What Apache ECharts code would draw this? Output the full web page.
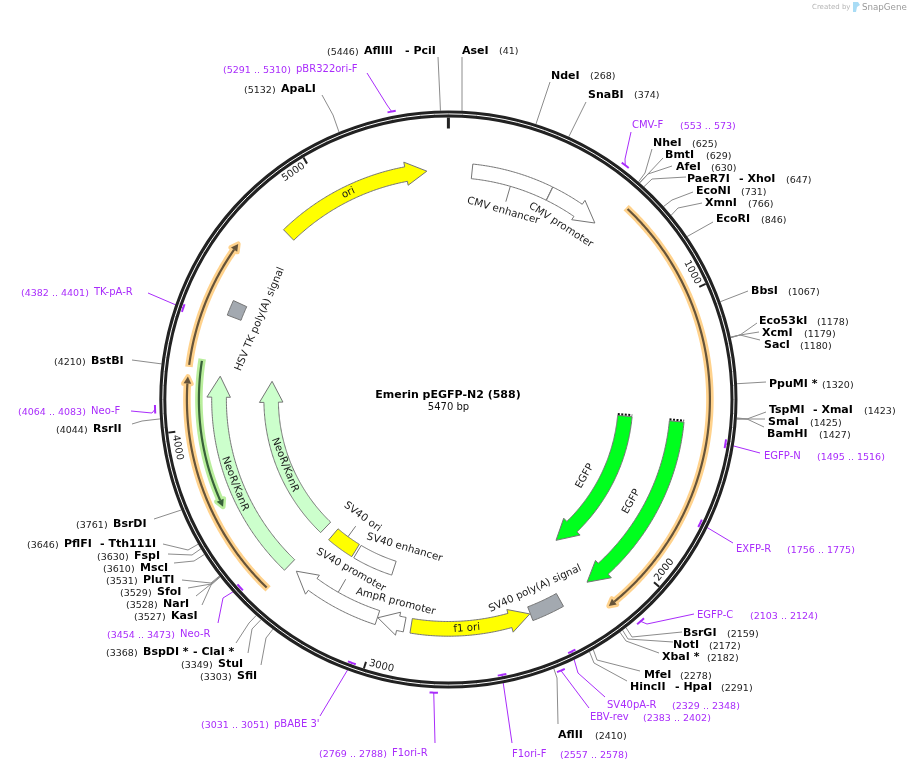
<!DOCTYPE html>
<html>
<head>
<meta charset="utf-8">
<style>html,body{margin:0;padding:0;background:#fff}#map{width:910px;height:770px}</style>
<script src="https://cdn.jsdelivr.net/npm/echarts@6/dist/echarts.min.js"></script>
</head>
<body>
<div id="map"></div>
<script>
const plasmidLength = 5470;
const plasmidName = 'Emerin pEGFP-N2 (588)';
const plasmidSize = '5470 bp';
const rulerTicks = [1000, 2000, 3000, 4000, 5000];

// restriction sites, clockwise from 0
const siteNames = ['AseI', 'NdeI', 'SnaBI', 'NheI', 'BmtI', 'AfeI', 'PaeR7I', 'EcoNI', 'XmnI', 'EcoRI', 'BbsI',
  'Eco53kI', 'XcmI', 'SacI', 'PpuMI *', 'TspMI', 'SmaI', 'BamHI', 'BsrGI', 'NotI', 'XbaI *', 'MfeI', 'HincII',
  'AflII', 'SfiI', 'StuI', 'BspDI *', 'KasI', 'NarI', 'SfoI', 'PluTI', 'MscI', 'FspI', 'PflFI', 'BsrDI',
  'RsrII', 'BstBI', 'ApaLI', 'AflIII'];
const siteAlso = { PaeR7I: '- XhoI', TspMI: '- XmaI', HincII: '- HpaI', 'BspDI *': '- ClaI *', PflFI: '- Tth111I', AflIII: '- PciI' };
const sitePositions = [41, 268, 374, 625, 629, 630, 647, 731, 766, 846, 1067,
  1178, 1179, 1180, 1320, 1423, 1425, 1427, 2159, 2172, 2182, 2278, 2291,
  2410, 3303, 3349, 3368, 3527, 3528, 3529, 3531, 3610, 3630, 3646, 3761,
  4044, 4210, 5132, 5446];

// primers
const primerNames = ['CMV-F', 'EGFP-N', 'EXFP-R', 'EGFP-C', 'SV40pA-R', 'EBV-rev', 'F1ori-F', 'F1ori-R', "pBABE 3'", 'Neo-R', 'Neo-F', 'TK-pA-R', 'pBR322ori-F'];
const primerStarts = [553, 1495, 1756, 2103, 2329, 2383, 2557, 2769, 3031, 3454, 4064, 4382, 5291];
const primerEnds = [573, 1516, 1775, 2124, 2348, 2402, 2578, 2788, 3051, 3473, 4083, 4401, 5310];
const primerSides = ['out', 'in', 'in', 'out', 'in', 'out', 'in', 'out', 'in', 'in', 'out', 'in', 'out'];

// features: start is the tail, end is the tip
const featureNames = ['CMV enhancer', 'CMV promoter', 'EGFP', 'EGFP', 'SV40 poly(A) signal', 'f1 ori', 'AmpR promoter', 'SV40 promoter', 'SV40 enhancer', 'SV40 ori', 'NeoR/KanR', 'NeoR/KanR', 'HSV TK poly(A) signal', 'ori'];
const featureStarts = [90, 398, 1449, 1451, 2293, 2877, 2902, 3009, 3007, 3215, 3401, 3401, 4420, 4799];
const featureEnds = [397, 603, 2167, 2170, 2417, 2419, 3007, 3366, 3204, 3350, 4191, 4192, 4478, 5388];
const featureKinds = ['box', 'arrow', 'arrow', 'arrow', 'box', 'arrow', 'arrow', 'arrow', 'box', 'box', 'arrow', 'arrow', 'box', 'arrow'];
const featureTracks = ['outer', 'outer', 'inner', 'outer', 'outer', 'outer', 'outer', 'outer', 'inner', 'inner', 'outer', 'inner', 'outer', 'outer'];
const featureFills = ['#ffffff', '#ffffff', '#00ff1e', '#00ff1e', '#a3a9b0', '#ffff00', '#ffffff', '#ffffff', '#ffffff', '#ffff00', '#ccffcc', '#ccffcc', '#a3a9b0', '#ffff00'];

// thin translated regions
const orfStarts = [657, 3404, 4218, 4238];
const orfEnds = [2160, 4179, 4657, 3716];

// ---- layout, in pixels of the 910x770 page ----
// site label: nameX, alsoX, posX, y, elbow x/y (or null), leader end x/y
const siteLayout = [
  [462, 0, 499, 50, null, null, 462, 57], [551, 0, 590, 75, null, null, 550, 82], [588, 0, 634, 94, null, null, 586, 102],
  [653, 0, 692, 142.5, 645, 173, 652, 149], [665, 0, 706, 154.5, 647, 175, 663, 158], [676, 0, 711, 166.5, 648, 174, 672, 166],
  [687, 739, 786, 178.5, 652, 179, 686, 177], [696, 0, 741, 190.5, 672, 200, 693, 192], [705, 0, 748, 202.5, 678, 208, 702, 203],
  [716, 0, 761, 218.5, null, null, 713, 222], [751, 0, 788, 290.5, null, null, 748, 291],
  [759, 0, 817, 320.5, 740, 335, 757, 323], [762, 0, 804, 332.5, 740, 335, 759, 332], [764, 0, 800, 344.5, 740, 335, 760, 340],
  [769, 0, 822, 383.5, null, null, 766, 382], [769, 813, 864, 409.5, 747, 419, 766, 412], [768, 0, 810, 421.5, 747, 419, 765, 419],
  [767, 0, 819, 433.5, 747, 419, 764, 427], [683, 0, 727, 632.5, 632, 637, 682, 632], [673, 0, 709, 644.5, 628, 639, 673, 642],
  [662, 0, 707, 656.5, 626, 641, 659, 653], [644, 0, 680, 674.5, 597, 660, 640, 671], [630, 675, 721, 686.5, 594, 663, 627, 681],
  [558, 0, 595, 734.5, 557, 678, 558, 724], [237, 0, 200, 675.5, 266, 638, 261, 665], [218, 0, 181, 663.5, 252, 629, 248, 653],
  [143, 193, 106, 651.5, 249, 623, 236, 643], [171, 0, 134, 615.5, 211, 585, 202, 605], [163, 0, 126, 603.5, 211, 584, 196, 596],
  [157, 0, 120, 591.5, 211, 584, 188, 588], [143, 0, 106, 579.5, 211, 583, 182, 580], [140, 0, 103, 567.5, 194, 561, 174, 563],
  [134, 0, 97, 555.5, 192, 555, 168, 554], [64, 100, 27, 543.5, 188, 550, 163, 544], [113, 0, 76, 523.5, null, null, 154, 519],
  [93, 0, 56, 428.5, 142, 421, 132, 424], [91, 0, 54, 360.5, null, null, 132, 360], [281, 0, 244, 88.5, 333, 115, 322, 95],
  [364, 405, 327, 50.5, 440, 100, 438, 57]
];
// primer label: nameX, posX, y, elbow x/y (or null), leader end x/y
const primerLayout = [
  [632, 680, 124.5, 625, 159, 631, 132], [764, 817, 455.5, null, null, 760, 453], [736, 787, 548.5, null, null, 733, 543],
  [697, 750, 614.5, 647, 624, 694, 614], [607, 672, 704.5, 578, 673, 605, 697], [590, 643, 716.5, null, null, 589, 708],
  [512, 560, 753.5, null, null, 512, 743], [392, 319, 752.5, null, null, 435, 743], [274, 201, 723.5, null, null, 320, 716],
  [180, 107, 633.5, 223, 598, 218, 623], [91, 18, 410.5, 152, 413, 131, 411], [94, 21, 291.5, null, null, 148, 293],
  [296, 223, 68.5, 387, 105, 367, 73]
];
// feature label: radius and bp of the text centre; the text is set along the tangent there
const featureLabelAt = [[196.5, 246], [207.5, 499], [156.5, 1813], [209.5, 1811], [208, 2361], [229.5, 2665], [209, 2957], [196.5, 3187], [154.5, 2986], [145.5, 3285], [229.5, 3775], [176, 3771], [205, 4453], [229.5, 5077]];
const featureLeaders = { 0: [222, 206, 246], 7: [222, 207, 3187], 9: [170, 157, 3285] };
const orfRadii = [261.5, 261.5, 261.5, 249.5];
const orfHalos = ['#ffd28c', '#ffd28c', '#ffd28c', '#b9ee9c'];
const orfLines = ['#66543a', '#66543a', '#66543a', '#38603a'];
const tracks = { outer: { inner: 222, outerR: 236.7, headIn: 218, headOut: 241.5 }, inner: { inner: 170, outerR: 184.5, headIn: 165.5, headOut: 189 } };
const HEAD_PX = 21;
const PURPLE = '#a92cfb';
const FONT = '"DejaVu Sans"';
const TEXT_DY = 0.8;

function px2bp(px, r) { return px / r * plasmidLength / (2 * Math.PI); }
function arcPoints(api, r, from, to) {
  const pts = [], n = Math.max(2, Math.ceil(Math.abs(to - from) / 6));
  for (let i = 0; i <= n; i++) pts.push(api.coord([r, from + (to - from) * i / n]));
  return pts;
}
function tangentRotation(bp) {
  let deg = bp / plasmidLength * 360;
  if (deg > 90 && deg < 270) deg -= 180;
  return -deg * Math.PI / 180;
}
function rotatedText(api, r, bp, text, size) {
  const p = api.coord([r, bp]);
  return {
    type: 'text', x: p[0], y: p[1], rotation: tangentRotation(bp), silent: true,
    style: { x: 0, y: 0, text: text, font: size + 'px ' + FONT, fill: '#1a1a1a', align: 'center', verticalAlign: 'middle' }
  };
}
function plainText(x, y, text, font, fill, align) {
  return { type: 'text', silent: true, style: { x: x, y: y + TEXT_DY, text: text, font: font, fill: fill, align: align || 'left', verticalAlign: 'middle' } };
}
function line(points, stroke, width, dash, cap) {
  return { type: 'polyline', silent: true, shape: { points: points }, style: { fill: null, stroke: stroke, lineWidth: width, lineDash: dash || null, lineCap: cap || 'butt' } };
}

function renderFeature(params, api) {
  const i = params.dataIndex, t = tracks[featureTracks[i]];
  const s = featureStarts[i], e = featureEnds[i], kids = [];
  const mid = (t.inner + t.outerR) / 2;
  let pts;
  if (featureKinds[i] === 'box') {
    pts = arcPoints(api, t.outerR, s, e).concat(arcPoints(api, t.inner, e, s));
  } else {
    const dir = e > s ? 1 : -1, base = e - dir * px2bp(HEAD_PX, mid);
    pts = arcPoints(api, t.outerR, s, base);
    pts.push(api.coord([t.headOut, base]), api.coord([mid, e]), api.coord([t.headIn, base]));
    pts = pts.concat(arcPoints(api, t.inner, base, s));
  }
  kids.push({ type: 'polygon', silent: true, shape: { points: pts }, style: { fill: featureFills[i], stroke: '#757575', lineWidth: 1 } });
  if (featureNames[i] === 'EGFP') {
    // fragment end of the feature
    const back = s - px2bp(1.5, mid);
    kids.push(line([api.coord([t.inner, back]), api.coord([t.outerR, back])], '#111', 2, [2, 1.5]));
  }
  const lead = featureLeaders[i];
  if (lead) kids.push(line([api.coord([lead[0], lead[2]]), api.coord([lead[1], lead[2]])], '#777', 1));
  const at = featureLabelAt[i];
  kids.push(rotatedText(api, at[0], at[1], featureNames[i], 10.3));
  return { type: 'group', children: kids };
}

function renderOrf(params, api) {
  const i = params.dataIndex, r = orfRadii[i], s = orfStarts[i], e = orfEnds[i];
  const dir = e > s ? 1 : -1, base = e - dir * px2bp(7, r);
  const head = [api.coord([r + 3.8, base]), api.coord([r, e]), api.coord([r - 3.8, base])];
  return {
    type: 'group', children: [
      line(arcPoints(api, r, s - dir * px2bp(2, r), base), orfHalos[i], 7.5),
      { type: 'polygon', silent: true, shape: { points: head }, style: { fill: orfHalos[i], stroke: orfHalos[i], lineWidth: 5, lineJoin: 'round' } },
      line(arcPoints(api, r, s, base), orfLines[i], 2.2),
      { type: 'polygon', silent: true, shape: { points: head }, style: { fill: orfLines[i] } }
    ]
  };
}

function renderPrimer(params, api) {
  const i = params.dataIndex, l = primerLayout[i];
  const r = primerSides[i] === 'out' ? 293.5 : 280.5;
  const mid = (primerStarts[i] + primerEnds[i]) / 2;
  const pts = [api.coord([r, mid])];
  if (l[3] !== null) pts.push([l[3], l[4]]);
  pts.push([l[5], l[6]]);
  return {
    type: 'group', children: [
      line(pts, PURPLE, 1),
      line(arcPoints(api, r, primerStarts[i], primerEnds[i]), PURPLE, 2, null, 'square'),
      plainText(l[0], l[2], primerNames[i], '10px ' + FONT, PURPLE),
      plainText(l[1], l[2] + 1, '(' + primerStarts[i] + ' .. ' + primerEnds[i] + ')', '9.5px ' + FONT, PURPLE)
    ]
  };
}

function renderSite(params, api) {
  const i = params.dataIndex, l = siteLayout[i], name = siteNames[i];
  const pts = [api.coord([289, sitePositions[i]])];
  if (l[4] !== null) pts.push([l[4], l[5]]);
  pts.push([l[6], l[7]]);
  const kids = [
    line(pts, '#8c8c8c', 1),
    plainText(l[0], l[3], name, 'bold 11px ' + FONT, '#000'),
    plainText(l[2], l[3] + 1, '(' + sitePositions[i] + ')', '9.5px ' + FONT, '#222')
  ];
  if (siteAlso[name]) kids.push(plainText(l[1], l[3], siteAlso[name], 'bold 11px ' + FONT, '#000'));
  return { type: 'group', children: kids };
}

function renderRing(params, api) {
  const c = api.coord([0, 0]), a = api.coord([285.6, 0]);
  const r = Math.abs(c[1] - a[1]);
  const ticks = [line([api.coord([282, 0]), api.coord([271, 0])], '#222', 3)];
  rulerTicks.forEach(function (t) {
    ticks.push(line([api.coord([282, t]), api.coord([275, t])], '#222', 2));
    ticks.push(rotatedText(api, 275, t - px2bp(16, 275), String(t), 10));
  });
  return {
    type: 'group', children: [
      { type: 'circle', silent: true, shape: { cx: c[0], cy: c[1], r: r }, style: { fill: null, stroke: '#222', lineWidth: 7 } },
      { type: 'circle', silent: true, shape: { cx: c[0], cy: c[1], r: r }, style: { fill: null, stroke: '#fff', lineWidth: 1 } }
    ].concat(ticks)
  };
}

function layer(count, renderItem, z) {
  return {
    type: 'custom', coordinateSystem: 'polar', renderItem: renderItem, clip: false, silent: true, z: z,
    data: Array.from({ length: count }, function (_, i) { return [100, i]; })
  };
}

const chart = echarts.init(document.getElementById('map'), null, { renderer: 'canvas' });
chart.setOption({
  animation: false,
  backgroundColor: '#fff',
  polar: { center: [448.4, 399.5], radius: 300 },
  angleAxis: { type: 'value', min: 0, max: plasmidLength, startAngle: 90, clockwise: true, show: false },
  radiusAxis: { type: 'value', min: 0, max: 300, show: false },
  series: [
    layer(siteNames.length, renderSite, 1),
    layer(primerNames.length, renderPrimer, 2),
    layer(1, renderRing, 3),
    layer(orfStarts.length, renderOrf, 4),
    layer(featureNames.length, renderFeature, 5)
  ],
  graphic: [
    { type: 'text', silent: true, style: { x: 448, y: 395.5, text: plasmidName, font: 'bold 11px ' + FONT, fill: '#000', align: 'center', verticalAlign: 'middle' } },
    { type: 'text', silent: true, style: { x: 448.5, y: 407.5, text: plasmidSize, font: '10px ' + FONT, fill: '#111', align: 'center', verticalAlign: 'middle' } },
    { type: 'text', silent: true, style: { x: 812, y: 7.5, text: 'Created by', font: '7px ' + FONT, fill: '#b5b5b5', verticalAlign: 'middle' } },
    { type: 'polygon', silent: true, shape: { points: [[853, 2], [858, 2], [860, 5], [857, 7], [856, 12], [853, 12]] }, style: { fill: '#a9dcf5' } },
    { type: 'text', silent: true, style: { x: 862, y: 7.5, text: 'SnapGene', font: '8.7px ' + FONT, fill: '#9a9a9a', verticalAlign: 'middle' } }
  ]
});
</script>
</body>
</html>
